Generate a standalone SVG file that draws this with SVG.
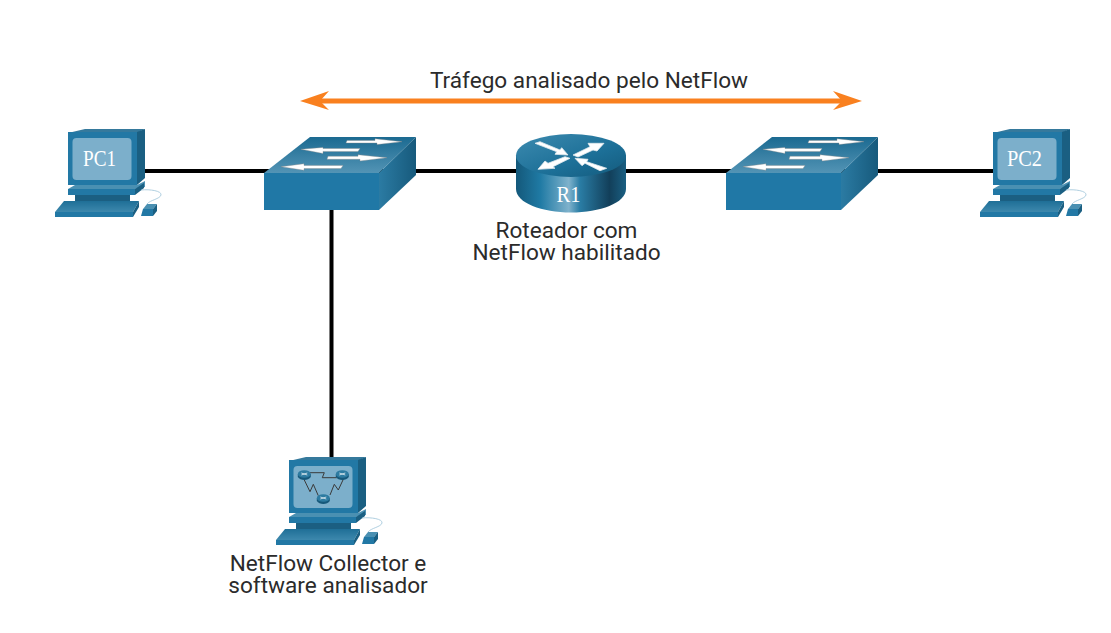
<svg xmlns="http://www.w3.org/2000/svg" width="1111" height="633" viewBox="0 0 1111 633">
<style>
.lbl{font-family:"Roboto","Liberation Sans",sans-serif;font-size:22.600px;fill:#2b2b2b;text-anchor:middle}
.dev{font-family:"Liberation Serif",serif;font-size:24px;fill:#fff;text-anchor:middle}
.link{stroke:#000;stroke-width:4;fill:none}
.ar{fill:#fff;stroke:#8a8a8a;stroke-width:.4}
.rar{fill:#fff;stroke:#dfe9ee;stroke-width:.8}
</style>
<defs>
<linearGradient id="swTop" x1="0" y1="1" x2="0" y2="0"><stop offset="0" stop-color="#5394b5"/><stop offset="1" stop-color="#1b6a91"/></linearGradient>
<linearGradient id="swSide" x1="0" y1="0" x2="1" y2="0"><stop offset="0" stop-color="#2b7ba3"/><stop offset="1" stop-color="#175a7c"/></linearGradient>
<linearGradient id="rtSide" x1="0" y1="0" x2="1" y2="0"><stop offset="0" stop-color="#14587a"/><stop offset=".22" stop-color="#1f7aa4"/><stop offset=".48" stop-color="#7fb2cc"/><stop offset=".58" stop-color="#2a7da5"/><stop offset=".85" stop-color="#123f5a"/><stop offset="1" stop-color="#1a5f82"/></linearGradient>
<linearGradient id="rtTop" x1="0" y1="0" x2="1" y2="1"><stop offset="0" stop-color="#3d8bb0"/><stop offset=".6" stop-color="#1c6f97"/><stop offset="1" stop-color="#145a7c"/></linearGradient>
<linearGradient id="kb" x1="0" y1="0" x2="0" y2="1"><stop offset="0" stop-color="#1f6f97"/><stop offset="1" stop-color="#3d88ad"/></linearGradient>
<g id="pc">
<path d="M68 133L85 129H145L137 133Z" fill="#35799c"/>
<path d="M137 132L145 129V178L137 185Z" fill="#1a5f82"/>
<rect x="68" y="132" width="69" height="53" fill="#2278a5"/>
<rect x="72.500" y="138" width="59" height="42" rx="4" fill="#7cafcb"/>
<path d="M75 185H137L145 181V187L135 189H68Z" fill="#4a90b2"/>
<path d="M68 189H135V195H68Z" fill="#2278a5"/>
<path d="M135 189L144 183V188L135 195Z" fill="#1a5f82"/>
<rect x="75" y="195" width="55" height="7" fill="#1b5f82"/>
<path d="M64 201H139L133 212H55Z" fill="url(#kb)"/>
<path d="M55 212H133V217H55Z" fill="#2278a5"/>
<path d="M133 212L139 201V207L133 217Z" fill="#1a5f82"/>
<path d="M141 190C150 189 162 191 161 195C160 199 150 200 147 204" fill="none" stroke="#9cc3d8" stroke-width=".8"/>
<path d="M147 204H157L153 209H143Z" fill="#4a90b2"/>
<path d="M143 209H153V216H141Z" fill="#2278a5"/>
<path d="M153 209L157 204V211L153 216Z" fill="#1a5f82"/>
</g>
<g id="sw">
<path d="M0 36L46 0H152L115 36Z" fill="url(#swTop)"/>
<rect x="0" y="36" width="115" height="37" fill="#2078a6"/>
<path d="M115 36L152 0V38L115 73Z" fill="url(#swSide)"/>
<path class="ar" d="M83 3.400H111V1.700L138 4.700L113 7.600V6H82Z"/>
<path class="ar" d="M37 12.300L59 10.400V11.500H96L94 14.400H59V16.500Z"/>
<path class="ar" d="M64 19.300H94V17.700L123 20.700L96 24V22.300H63Z"/>
<path class="ar" d="M17 29.700L40 26.700V28.400H79L77 31.600H40V33.300Z"/>
</g>
<g id="mini">
<path d="M-6.500 -1V2C-4 6 4 6 6.500 2V-1Z" fill="#16587a"/>
<ellipse cx="0" cy="-1" rx="6.500" ry="3.800" fill="#2d7ba1"/>
<path d="M-3 -2L3 0M3 -2L-3 0" stroke="#fff" stroke-width=".7"/>
</g>
</defs>
<g id="connectors">
<path class="link" d="M145 171H1000"/>
<path class="link" d="M331.500 200V458"/>
<path d="M318 101H844" stroke="#f9801f" stroke-width="5" fill="none"/>
<path d="M300 101L329 91L320 101L329 110Z" fill="#f9801f"/>
<path d="M862 101L833 91L842 101L833 110Z" fill="#f9801f"/>
</g>
<text class="lbl" x="589" y="88">Tráfego analisado pelo NetFlow</text>
<g id="PC1"><use href="#pc"/><text class="dev" x="99.500" y="166" textLength="33" lengthAdjust="spacingAndGlyphs">PC1</text></g>
<g id="S1" transform="translate(264,137)"><use href="#sw"/></g>
<g id="R1">
<path d="M516 156V189C516 203 542 212.500 571 212.500C600 212.500 626 203 626 189V156Z" fill="url(#rtSide)"/>
<ellipse cx="571" cy="155.500" rx="55" ry="21.500" fill="url(#rtTop)"/>
<path class="rar" d="M535 143.300L540 141.700L560 150L561.700 147.700L568 155L555 154.300L556.700 151.700Z"/>
<path class="rar" d="M604 143.300H588L590 146.700L573 155L578 157L593 150L597 151Z"/>
<path class="rar" d="M538 169.300L555 168.300L553 166.700L570 158.300L565 156.700L548 163.300L545 161Z"/>
<path class="rar" d="M606.700 168.300L600 170.700L585 163.300L582 165.700L575 158.300L588 159.300L586.700 161.700Z"/>
<text class="dev" x="568.500" y="202" textLength="24" lengthAdjust="spacingAndGlyphs">R1</text>
</g>
<g id="S2" transform="translate(726,137)"><use href="#sw"/></g>
<g id="PC2" transform="translate(925,0)"><use href="#pc"/><text class="dev" x="99.500" y="166" textLength="35" lengthAdjust="spacingAndGlyphs">PC2</text></g>
<g id="Collector" transform="translate(221,328)">
<use href="#pc"/>
<path d="M89 144.700H103.300L101.300 149.700H115.700M83.300 152L89 163.700L92.300 156.300L97.300 167.700M109 167L113.300 156.300L117.300 162L122.300 151.300" fill="none" stroke="#3a3a3a" stroke-width="1"/>
<use href="#mini" x="83.300" y="147"/><use href="#mini" x="121.300" y="147"/><use href="#mini" x="102.300" y="171"/>
</g>
<text class="lbl"><tspan x="566.500" y="238">Roteador com</tspan><tspan x="566.500" y="260">NetFlow habilitado</tspan></text>
<text class="lbl"><tspan x="328" y="571">NetFlow Collector e</tspan><tspan x="328" y="593">software analisador</tspan></text>
</svg>
